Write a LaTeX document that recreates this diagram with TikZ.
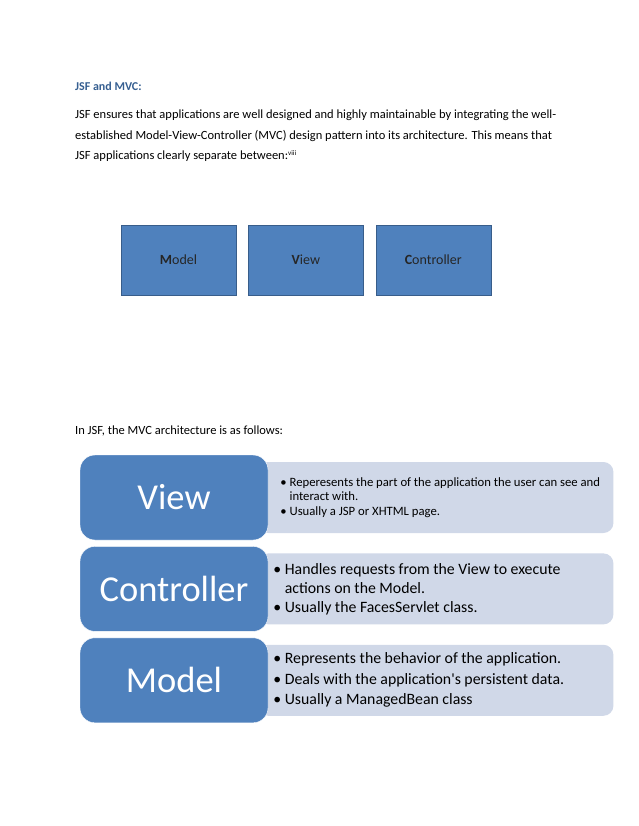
\documentclass[tikz,border=0pt]{standalone}
\usepackage{fontspec}
\setmainfont{Carlito}
\definecolor{OfficeBlue}{HTML}{4F81BD}
\definecolor{OfficeLine}{HTML}{385D8A}
\definecolor{OfficePale}{HTML}{D0D8E8}
\definecolor{HeadBlue}{HTML}{365F91}
\usetikzlibrary{positioning, backgrounds}

\begin{document}
\begin{tikzpicture}[
  x=1pt, y=-1pt,
  mvcbox/.style={
    draw=OfficeLine, fill=OfficeBlue,
    minimum width=115pt, minimum height=70pt,
    font=\fontsize{14}{16}\selectfont, text=black!85
  },
  layer/.style={
    draw=white, fill=OfficeBlue, rounded corners=15pt,
    minimum width=188pt, minimum height=85pt,
    text=white, font=\fontsize{36.5}{40}\selectfont
  },
  note/.style={
    fill=OfficePale, rounded corners=10pt,
    minimum width=355pt, minimum height=71pt, anchor=west
  },
  prose/.style={anchor=north west, align=left, inner sep=0pt,
    font=\fontsize{12.5}{20.5}\selectfont},
  bullets/.style={anchor=west, align=left, inner sep=0pt}
]
  \useasboundingbox (0,0) rectangle (638,826);

  % heading and text
  \node[anchor=west, inner sep=0pt, text=HeadBlue,
    font=\fontsize{12}{14}\selectfont\bfseries] (title) at (75,86) {JSF and MVC:};
  \node[prose] (intro) at (75,110) {%
    JSF ensures that applications are well designed and highly maintainable by integrating the well-\\
    established Model-View-Controller (MVC) design pattern into its architecture. This means that\\
    JSF applications clearly separate between:\textsuperscript{\scriptsize viii}};

  \node[mvcbox] (m) at (178.5,260) {\textbf{M}odel};
  \node[mvcbox, right=12pt of m] (v) {\textbf{V}iew};
  \node[mvcbox, right=12pt of v] (c) {\textbf{C}ontroller};

  \node[anchor=west, inner sep=0pt, font=\fontsize{12.5}{14}\selectfont]
    (lead) at (75,431) {In JSF, the MVC architecture is as follows:};

  % layers
  \node[layer] (lv) at (174,497.5) {View};
  \node[layer, below=6pt of lv] (lc) {Controller};
  \node[layer, below=6pt of lc] (lm) {Model};

  \begin{scope}[on background layer]
    \fill[white] (0,0) rectangle (638,826);
    \node[note] (nv) at ([xshift=-10pt]lv.east) {};
    \node[note] (nc) at ([xshift=-10pt]lc.east) {};
    \node[note] (nm) at ([xshift=-10pt]lm.east) {};
  \end{scope}

  \node[bullets, font=\fontsize{12.7}{14.5}\selectfont] (tv) at ([xshift=12pt]lv.east) {%
    \textbullet\ Reperesents the part of the application the user can see and\\
    \phantom{\textbullet\ }interact with.\\
    \textbullet\ Usually a JSP or XHTML page.};
  \node[bullets, font=\fontsize{15.8}{19}\selectfont] (tc) at ([xshift=5pt]lc.east) {%
    \textbullet\ Handles requests from the View to execute\\
    \phantom{\textbullet\ }actions on the Model.\\
    \textbullet\ Usually the FacesServlet class.};
  \node[bullets, font=\fontsize{15.8}{20.5}\selectfont] (tm) at ([xshift=5pt]lm.east) {%
    \textbullet\ Represents the behavior of the application.\\
    \textbullet\ Deals with the application\textquotesingle s persistent data.\\
    \textbullet\ Usually a ManagedBean class};
\end{tikzpicture}
\end{document}
